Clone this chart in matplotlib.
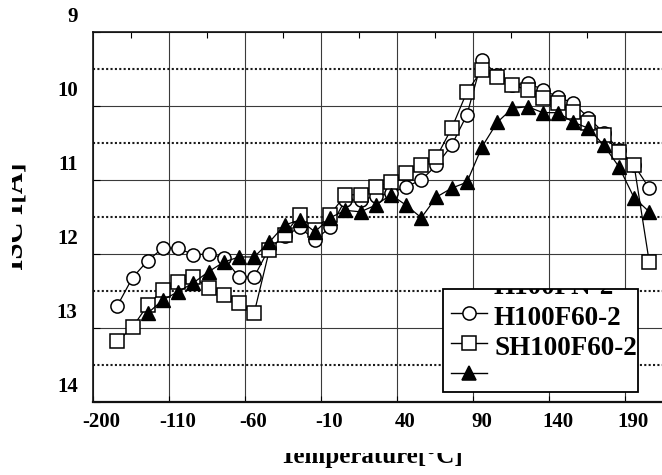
import matplotlib
matplotlib.use('Agg')
import matplotlib.pyplot as plt
from matplotlib.transforms import ScaledTranslation, Bbox, TransformedBbox
from matplotlib.lines import Line2D
from matplotlib.patches import Rectangle
import matplotlib.ticker as mticker

# ---------------- data ----------------
temps = [-144, -134, -124, -114, -104, -94, -84, -74, -64, -54,
         -44, -34, -24, -14, -4, 6, 16, 26, 36, 46,
         56, 66, 76, 86, 96, 106, 116, 126, 136, 146,
         156, 166, 176, 186, 196, 206]

h100f60 = [12.70, 12.32, 12.09, 11.92, 11.92, 12.01, 12.00, 12.05, 12.31, 12.31,
           11.92, 11.76, 11.64, 11.81, 11.64, 11.27, 11.27, 11.22, 11.18, 11.09,
           11.00, 10.80, 10.53, 10.12, 9.38, 9.58, 9.72, 9.69, 9.78, 9.88,
           9.96, 10.16, 10.36, 10.59, 10.80, 11.11]

sh100f60 = [13.18, 12.99, 12.69, 12.49, 12.38, 12.31, 12.46, 12.55, 12.66, 12.80,
            11.95, 11.74, 11.47, 11.68, 11.47, 11.20, 11.20, 11.09, 11.03, 10.91,
            10.80, 10.69, 10.30, 9.81, 9.51, 9.61, 9.72, 9.78, 9.89, 9.96,
            10.08, 10.23, 10.39, 10.62, 10.80, 12.11]

tri_temps = [-124, -114, -104, -94, -84, -74, -64, -54,
             -44, -34, -24, -14, -4, 6, 16, 26, 36, 46,
             56, 66, 76, 86, 96, 106, 116, 126, 136, 146,
             156, 166, 176, 186, 196, 206]
tri_vals = [12.80, 12.62, 12.51, 12.39, 12.24, 12.11, 12.04, 12.04,
            11.84, 11.61, 11.54, 11.70, 11.51, 11.41, 11.43, 11.34, 11.20, 11.34,
            11.51, 11.23, 11.11, 11.03, 10.55, 10.22, 10.03, 10.01, 10.09, 10.09,
            10.22, 10.30, 10.53, 10.82, 11.24, 11.43]

x_ticks = [-160, -110, -60, -10, 40, 90, 140, 190]
x_ticklabels = ['-200', '-110', '-60', '-10', '40', '90', '140', '190']
y_ticks = [9, 10, 11, 12, 13, 14]
y_ticklabels = ['9', '10', '11', '12', '13', '14']
legend_labels = ['H100FN-2', 'H100F60-2', 'SH100F60-2', '']
x_title = 'Temperature[\u00b0C]'
y_title = 'ISC I[A]'

# ---------------- figure ----------------
W, H = 662, 475
fig = plt.figure(figsize=(W / 100, H / 100), dpi=100)
fig.patch.set_facecolor('white')
serif = ['Liberation Serif', 'DejaVu Serif']

ax = fig.add_axes([93 / W, 73 / H, (666 - 93) / W, 370 / H])
ax.set_xlim(-160, 217)
ax.set_ylim(14, 9)

# grid
ax.set_xticks(x_ticks)
ax.set_xticklabels(x_ticklabels)
ax.set_yticks(y_ticks)
ax.set_yticklabels(y_ticklabels)
ax.yaxis.set_minor_locator(mticker.MultipleLocator(0.5))
ax.xaxis.set_minor_locator(mticker.FixedLocator(
    [(a + b) / 2 for a, b in zip(x_ticks[:-1], x_ticks[1:])] + [x_ticks[-1] + 25]))

ax.grid(which='major', axis='both', color='#3a3a3a', lw=0.8, ls='-', zorder=1)
ax.yaxis.grid(which='minor', color='#1a1a1a', lw=1.5, ls=(0, (1, 1.1)), zorder=1)
ax.set_axisbelow(True)

for sp in ax.spines.values():
    sp.set_color('#111111')
    sp.set_linewidth(1.2)
ax.spines['bottom'].set_linewidth(1.6)

ax.tick_params(axis='x', which='major', direction='in', length=4, width=0.8,
               top=False, bottom=True, pad=7, labelsize=15)
ax.tick_params(axis='x', which='minor', direction='in', length=4, width=0.8,
               top=True, bottom=False)
ax.tick_params(axis='y', which='major', direction='in', length=5, width=0.8,
               left=True, right=False, pad=11, labelsize=15)
ax.tick_params(axis='y', which='minor', length=0)

xoff = ScaledTranslation(8.5 / 100, 0, fig.dpi_scale_trans)
for lbl in ax.get_xticklabels():
    lbl.set_fontfamily(serif)
    lbl.set_fontweight('bold')
    lbl.set_transform(lbl.get_transform() + xoff)
yoff = ScaledTranslation(0, 17 / 100, fig.dpi_scale_trans)
for lbl in ax.get_yticklabels():
    lbl.set_fontfamily(serif)
    lbl.set_fontweight('bold')
    lbl.set_transform(lbl.get_transform() + yoff)

# data
ax.plot(temps, h100f60, '-o', color='black', lw=0.9, ms=9.5, mfc='white',
        mec='black', mew=1.1, zorder=3)
ax.plot(temps, sh100f60, '-s', color='black', lw=0.9, ms=9.5, mfc='white',
        mec='black', mew=1.1, zorder=4)
ax.plot(tri_temps, tri_vals, '-^', color='black', lw=0.9, ms=10, mfc='black',
        mec='black', mew=1.0, zorder=5)

# axis titles (cropped like the scan)
xt = fig.text(371 / W, 1 - 463 / H, x_title, ha='center', va='baseline',
              fontsize=18, fontweight='bold', family=serif)
xt.set_clip_box(TransformedBbox(Bbox.from_extents(0, 0, 1, 1 - 452.5 / H), fig.transFigure))
yt = fig.text(23 / W, 1 - 216 / H, y_title, ha='center', va='baseline',
              rotation=90, rotation_mode='anchor', fontsize=21,
              fontweight='bold', family=serif)
yt.set_clip_box(TransformedBbox(Bbox.from_extents(12 / W, 0, 1, 1), fig.transFigure))

# legend (manual, top row hidden by the frame as in the scan)
bx0, by0, bx1, by1 = 443, 289, 638, 392
box = Rectangle((bx0 / W, 1 - by1 / H), (bx1 - bx0) / W, (by1 - by0) / H,
                transform=fig.transFigure, facecolor='white', edgecolor='black',
                lw=1.3, zorder=10)
fig.add_artist(box)
clip = TransformedBbox(Bbox.from_extents(bx0 / W, 1 - by1 / H, bx1 / W, 1 - by0 / H),
                       fig.transFigure)
baselines = [294, 325, 355, 385]
handle_y = [283, 313, 343, 373]
markers = [None, 'o', 's', '^']
for i, lab in enumerate(legend_labels):
    t = fig.text(494 / W, 1 - baselines[i] / H, lab, ha='left', va='baseline',
                 fontsize=19.5, fontweight='bold', family=serif, zorder=11)
    t.set_clip_box(clip)
    if markers[i] is None:
        continue
    yy = 1 - handle_y[i] / H
    fig.add_artist(Line2D([451 / W, 487 / W], [yy, yy], transform=fig.transFigure,
                          color='black', lw=1.0, zorder=11))
    fc = 'black' if markers[i] == '^' else 'white'
    fig.add_artist(Line2D([469 / W], [yy], transform=fig.transFigure, marker=markers[i],
                          ms=10 if markers[i] == '^' else 9.5, mfc=fc, mec='black',
                          mew=1.1, ls='none', zorder=12))

fig.savefig('out.png', dpi=100, facecolor='white')
